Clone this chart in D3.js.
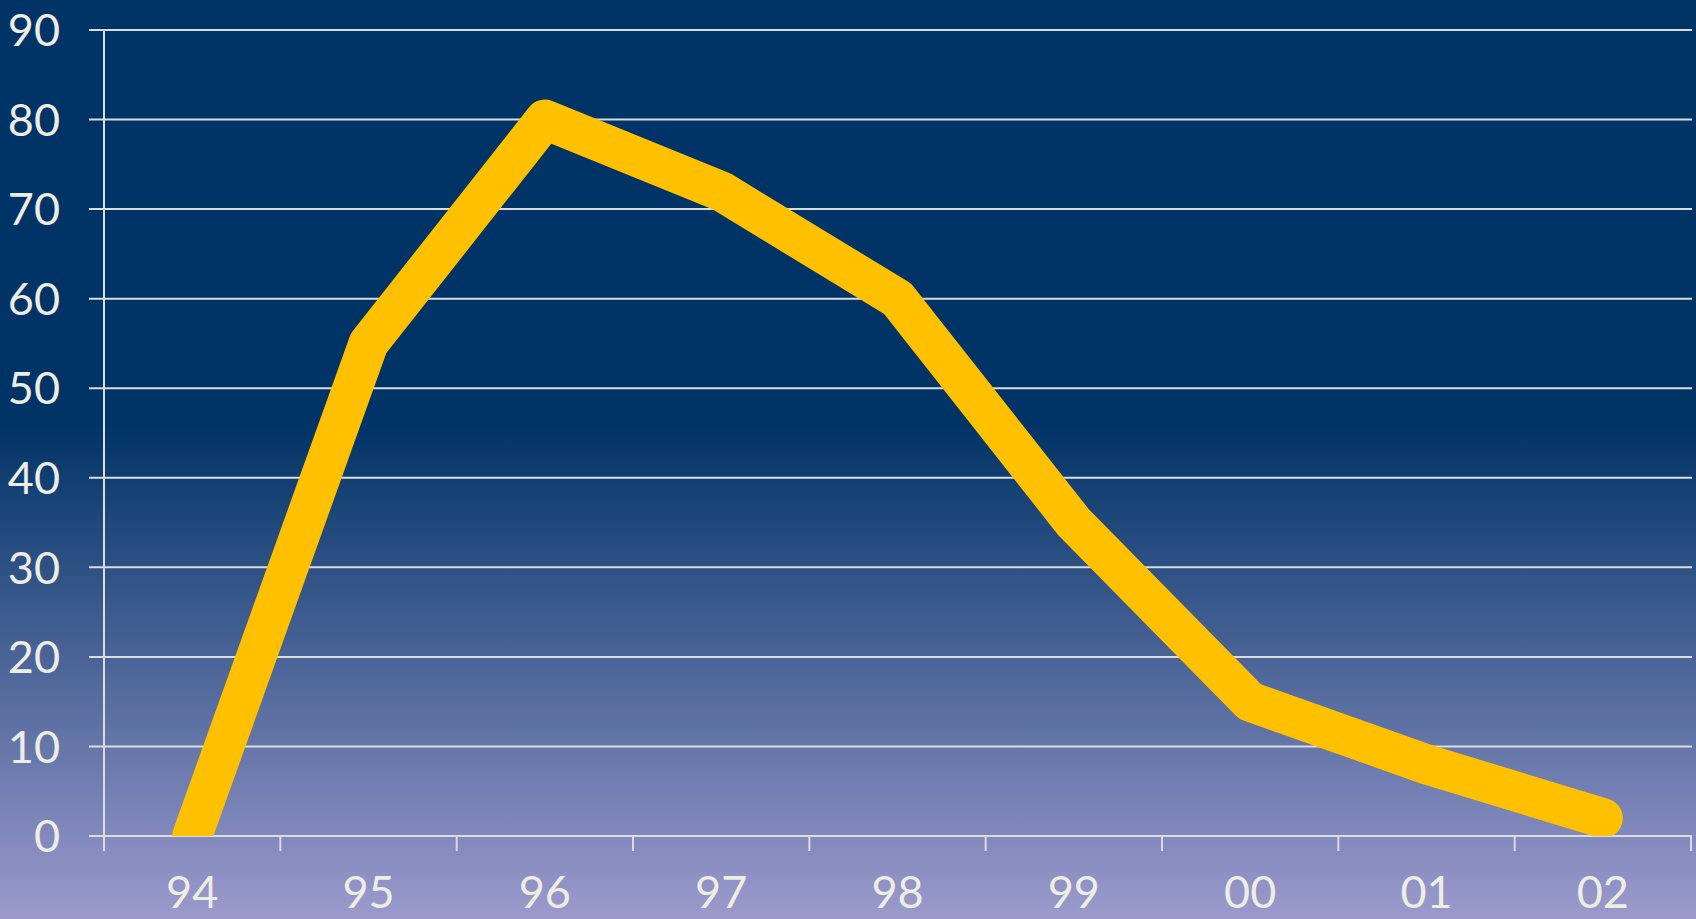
<!DOCTYPE html>
<html>
<head>
<meta charset="utf-8">
<script src="https://cdn.jsdelivr.net/npm/d3@7"></script>
<style>
  html, body { margin: 0; padding: 0; overflow: hidden; }
  svg { display: block; }
  text { font-family: Lato, "Open Sans", sans-serif; fill: #eeede4; }
</style>
</head>
<body>
<script>
// chart data
const years = ['94', '95', '96', '97', '98', '99', '00', '01', '02'];
const values = [0, 55, 80, 72, 60, 35, 15, 8, 2];
const yTicks = [0, 10, 20, 30, 40, 50, 60, 70, 80, 90];

const width = 1696;
const height = 919;
const margin = { top: 30, right: 5, bottom: 83, left: 104 };

const svg = d3.select('body').append('svg')
    .attr('width', width)
    .attr('height', height);

// background gradient
const defs = svg.append('defs');
const grad = defs.append('linearGradient')
    .attr('id', 'bg')
    .attr('x1', 0).attr('y1', 0).attr('x2', 0).attr('y2', 1);
grad.append('stop').attr('offset', '0%').attr('stop-color', '#003366');
grad.append('stop').attr('offset', '46%').attr('stop-color', '#003366');
grad.append('stop').attr('offset', '100%').attr('stop-color', '#9c9acd');

svg.append('rect')
    .attr('width', width)
    .attr('height', height)
    .attr('fill', 'url(#bg)');

// scales
const x = d3.scaleBand()
    .domain(years)
    .range([margin.left, width - margin.right])
    .padding(0);

const y = d3.scaleLinear()
    .domain([0, 90])
    .range([height - margin.bottom, margin.top]);

const gridColor = '#dcdcdc';

// gridlines
svg.append('g')
    .selectAll('line')
    .data(yTicks)
    .enter().append('line')
    .attr('x1', margin.left - 15)
    .attr('x2', width - margin.right + 1)
    .attr('y1', d => y(d))
    .attr('y2', d => y(d))
    .attr('stroke', gridColor)
    .attr('stroke-width', 2);

// y axis line
svg.append('line')
    .attr('x1', margin.left)
    .attr('x2', margin.left)
    .attr('y1', y(90))
    .attr('y2', y(0) + 15)
    .attr('stroke', gridColor)
    .attr('stroke-width', 2);

// y labels
svg.append('g')
    .selectAll('text')
    .data(yTicks)
    .enter().append('text')
    .attr('x', 60)
    .attr('y', d => y(d))
    .attr('dy', '0.36em')
    .attr('text-anchor', 'end')
    .attr('font-size', 45)
    .text(d => d);

// x ticks at band boundaries
const boundaries = years.map(d => x(d)).concat([x.range()[1]]);
svg.append('g')
    .selectAll('line')
    .data(boundaries)
    .enter().append('line')
    .attr('x1', d => d)
    .attr('x2', d => d)
    .attr('y1', y(0))
    .attr('y2', y(0) + 15)
    .attr('stroke', gridColor)
    .attr('stroke-width', 2);

// x labels
svg.append('g')
    .selectAll('text')
    .data(years)
    .enter().append('text')
    .attr('x', d => x(d) + x.bandwidth() / 2)
    .attr('y', 908)
    .attr('text-anchor', 'middle')
    .attr('font-size', 45)
    .text(d => d);

// clip the line to the plot area
defs.append('clipPath')
    .attr('id', 'plot')
    .append('rect')
    .attr('x', margin.left)
    .attr('y', margin.top)
    .attr('width', width - margin.left - margin.right)
    .attr('height', y(0) - margin.top);

const line = d3.line()
    .x((d, i) => x(years[i]) + x.bandwidth() / 2)
    .y(d => y(d));

svg.append('path')
    .datum(values)
    .attr('clip-path', 'url(#plot)')
    .attr('d', line)
    .attr('fill', 'none')
    .attr('stroke', '#ffc000')
    .attr('stroke-width', 40)
    .attr('stroke-linejoin', 'round')
    .attr('stroke-linecap', 'round');
</script>
</body>
</html>
